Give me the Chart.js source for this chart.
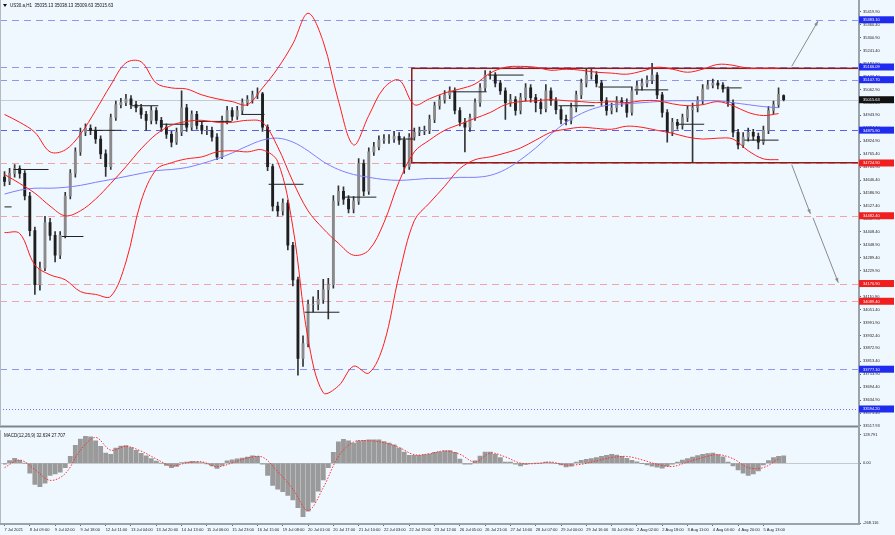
<!DOCTYPE html>
<html>
<head>
<meta charset="utf-8">
<script src="https://cdn.jsdelivr.net/npm/chart.js@4.4.0/dist/chart.umd.min.js"></script>
<style>
  html, body { margin: 0; padding: 0; background: #f0f8ff; }
  #wrap { position: relative; width: 895px; height: 535px; overflow: hidden; background: #f0f8ff; }
  #priceBox { position: absolute; left: 0; top: 0; width: 895px; height: 430px; }
  #macdBox { position: absolute; left: 0; top: 430px; width: 895px; height: 105px; }
</style>
</head>
<body>
<div id="wrap">
  <div id="priceBox"><canvas id="priceChart"></canvas></div>
  <div id="macdBox"><canvas id="macdChart"></canvas></div>
</div>
<script>
// US30.a H1, 7 Jul - 5 Aug 2021, one candle = ~3 hourly bars
const symbolName = 'US30.a,H1';

const timeLabels = ['7 Jul 2021', '8 Jul 09:00', '9 Jul 02:00', '9 Jul 18:00', '12 Jul 11:00', '13 Jul 04:00',
    '13 Jul 20:00', '14 Jul 13:00', '15 Jul 06:00', '15 Jul 23:00', '16 Jul 15:00', '19 Jul 08:00',
    '20 Jul 01:00', '20 Jul 17:00', '21 Jul 10:00', '22 Jul 03:00', '22 Jul 19:00', '23 Jul 12:00',
    '26 Jul 05:00', '26 Jul 21:00', '27 Jul 14:00', '28 Jul 07:00', '29 Jul 00:00', '29 Jul 16:00',
    '30 Jul 09:00', '2 Aug 02:00', '2 Aug 18:00', '3 Aug 11:00', '4 Aug 04:00', '4 Aug 20:00', '5 Aug 13:00'];

const priceTicks = [35419.90, 35360.40, 35300.90, 35241.40, 35181.90, 35122.40, 35062.90, 35003.40,
    34943.90, 34884.40, 34824.90, 34765.40, 34705.90, 34646.40, 34586.90, 34527.40, 34467.90,
    34408.40, 34348.90, 34289.40, 34229.90, 34170.40, 34110.90, 34051.40, 33991.90, 33932.40,
    33872.90, 33813.40, 33753.90, 33694.40, 33634.90, 33575.40, 33517.93];

const openPrices = [
    34660, 34640, 34677, 34699, 34677, 34573, 34414, 34166, 34243, 34451,
    34392, 34301, 34392, 34573, 34677, 34776, 34866, 34884, 34875, 34835,
    34767, 34708, 34934, 34993, 35002, 35020, 34993, 34979, 34948, 34921,
    34966, 34921, 34889, 34857, 34821, 34866, 34979, 34889, 34948, 34898,
    34875, 34875, 34844, 34753, 34921, 34966, 34939, 34966, 35002, 35016,
    35038, 35043, 34889, 34708, 34527, 34505, 34541, 34347, 34188, 33827,
    33895, 34075, 34075, 34098, 34143, 34166, 34550, 34595, 34559, 34514,
    34550, 34722, 34595, 34776, 34799, 34830, 34835, 34835, 34848, 34830,
    34708, 34844, 34866, 34871, 34875, 34925, 34988, 35016, 35038, 35056,
    34966, 34912, 34889, 34934, 35002, 35070, 35129, 35129, 35092, 35056,
    35002, 35016, 34966, 35025, 35070, 35025, 35002, 34975, 35056, 35011,
    34970, 34925, 34921, 34979, 35038, 35092, 35129, 35129, 35092, 35011,
    34966, 34979, 35011, 35002, 34957, 35056, 35079, 35092, 35106, 35129,
    35038, 34957, 34866, 34912, 34898, 34934, 34970, 34979, 35011, 35065,
    35083, 35092, 35083, 35065, 35002, 34866, 34808, 34844, 34866, 34848,
    34821, 34875, 34966, 34993, 35035.13];

const highPrices = [
    34685, 34700, 34718, 34712, 34690, 34590, 34430, 34270, 34480, 34470,
    34410, 34410, 34590, 34695, 34795, 34885, 34905, 34900, 34890, 34850,
    34785, 34950, 35010, 35022, 35040, 35035, 35008, 34995, 34962, 34985,
    34980, 34935, 34905, 34870, 34885, 35056, 34995, 34965, 34962, 34915,
    34895, 34890, 34860, 34940, 34985, 34980, 34985, 35020, 35035, 35055,
    35070, 35050, 34900, 34720, 34545, 34560, 34555, 34360, 34200, 33930,
    34095, 34110, 34140, 34190, 34195, 34575, 34620, 34615, 34575, 34570,
    34745, 34740, 34795, 34820, 34850, 34855, 34855, 34870, 34865, 34845,
    34860, 34885, 34890, 34895, 34945, 35005, 35035, 35058, 35075, 35070,
    34980, 34930, 34950, 35020, 35090, 35150, 35147, 35140, 35105, 35070,
    35040, 35030, 35045, 35090, 35085, 35040, 35020, 35085, 35070, 35025,
    34985, 34945, 35000, 35055, 35110, 35160, 35155, 35145, 35105, 35025,
    35000, 35030, 35025, 35020, 35075, 35100, 35112, 35125, 35183, 35140,
    35050, 34970, 34930, 34925, 34950, 34988, 35000, 35030, 35085, 35105,
    35110, 35105, 35095, 35075, 35015, 34880, 34865, 34885, 34880, 34862,
    34895, 34985, 35010, 35070, 35038.13];

const lowPrices = [
    34620, 34625, 34660, 34655, 34555, 34390, 34121, 34140, 34230, 34370,
    34270, 34285, 34380, 34560, 34660, 34760, 34850, 34855, 34815, 34745,
    34663, 34695, 34920, 34978, 34988, 34975, 34960, 34930, 34875, 34905,
    34905, 34870, 34838, 34799, 34810, 34850, 34870, 34875, 34880, 34858,
    34855, 34825, 34740, 34745, 34905, 34920, 34925, 34950, 34988, 35000,
    35020, 34870, 34690, 34505, 34480, 34485, 34325, 34160, 33750, 33790,
    33880, 34040, 34050, 34080, 34008, 34150, 34530, 34535, 34495, 34495,
    34535, 34575, 34580, 34760, 34785, 34815, 34815, 34820, 34810, 34677,
    34695, 34830, 34850, 34855, 34860, 34910, 34972, 35000, 35020, 34950,
    34895, 34776, 34870, 34920, 34985, 35055, 35110, 35075, 35040, 34925,
    34985, 34945, 34950, 35010, 35005, 34960, 34950, 34960, 34990, 34950,
    34905, 34900, 34905, 34960, 35020, 35075, 35110, 35075, 34990, 34945,
    34950, 34960, 34985, 34935, 34945, 35040, 35060, 35075, 35090, 35020,
    34935, 34821, 34850, 34880, 34880, 34915, 34726, 34960, 34995, 35065,
    35070, 35065, 35050, 34985, 34845, 34790, 34795, 34825, 34830, 34790,
    34810, 34860, 34950, 34980, 35009.63];

const closePrices = [
    34640, 34677, 34699, 34677, 34573, 34414, 34166, 34243, 34451, 34392,
    34301, 34392, 34573, 34677, 34776, 34866, 34884, 34875, 34835, 34767,
    34708, 34934, 34993, 35002, 35020, 34993, 34979, 34948, 34921, 34966,
    34921, 34889, 34857, 34821, 34866, 34979, 34889, 34948, 34898, 34875,
    34875, 34844, 34753, 34921, 34966, 34939, 34966, 35002, 35016, 35038,
    35043, 34889, 34708, 34527, 34505, 34541, 34347, 34188, 33827, 33895,
    34075, 34075, 34098, 34143, 34166, 34550, 34595, 34559, 34514, 34550,
    34722, 34595, 34776, 34799, 34830, 34835, 34835, 34848, 34830, 34708,
    34844, 34866, 34871, 34875, 34925, 34988, 35016, 35038, 35056, 34966,
    34912, 34889, 34934, 35002, 35070, 35129, 35129, 35092, 35056, 35002,
    35016, 34966, 35025, 35070, 35025, 35002, 34975, 35056, 35011, 34970,
    34925, 34921, 34979, 35038, 35092, 35129, 35129, 35092, 35011, 34966,
    34979, 35011, 35002, 34957, 35056, 35079, 35092, 35106, 35129, 35038,
    34957, 34866, 34912, 34898, 34934, 34970, 34979, 35011, 35065, 35083,
    35092, 35083, 35065, 35002, 34866, 34808, 34844, 34866, 34848, 34821,
    34875, 34966, 34993, 35040, 35015.63];

// bollinger bands + long MA, one value every 3 candles
const bandStep = 3;
const bandUpper = [
    34948, 34912, 34866, 34776, 34785, 34857, 34966, 35083, 35185, 35190,
    35092, 35070, 35065, 35038, 35020, 35007, 34993, 35070, 35160, 35273,
    35413, 35282, 35011, 34808, 34943, 35070, 35106, 34993, 35020, 35047,
    35065, 35088, 35138, 35165, 35169, 35165, 35151, 35156, 35151, 35142,
    35138, 35133, 35147, 35165, 35156, 35142, 35156, 35178, 35174, 35160,
    35160, 35160];
const bandMiddle = [
    34672, 34631, 34586, 34527, 34482, 34505, 34559, 34631, 34708, 34790,
    34857, 34898, 34916, 34921, 34912, 34912, 34921, 34912, 34799, 34640,
    34505, 34423, 34356, 34301, 34324, 34451, 34640, 34776, 34830, 34875,
    34903, 34930, 34957, 34993, 35007, 35011, 35016, 35011, 35007, 35002,
    35007, 35002, 35011, 35011, 34997, 34988, 34993, 35007, 34988, 34957,
    34943, 34952];
const bandLower = [
    34405, 34401, 34256, 34211, 34188, 34134, 34121, 34112, 34270, 34550,
    34695, 34726, 34744, 34753, 34776, 34781, 34776, 34785, 34731, 34430,
    33917, 33669, 33700, 33791, 33759, 33895, 34211, 34460, 34541, 34618,
    34699, 34740, 34753, 34771, 34794, 34830, 34866, 34880, 34889, 34884,
    34880, 34894, 34889, 34875, 34862, 34844, 34835, 34839, 34835, 34781,
    34744, 34740];
const longMA = [
    34582, 34600, 34609, 34609, 34613, 34622, 34636, 34649, 34663, 34677,
    34690, 34695, 34704, 34722, 34744, 34771, 34803, 34830, 34839, 34821,
    34781, 34731, 34695, 34672, 34659, 34649, 34645, 34649, 34654, 34654,
    34659, 34659, 34668, 34695, 34740, 34794, 34857, 34912, 34952, 34979,
    34993, 34997, 35002, 35007, 35011, 35011, 35011, 35011, 35002, 34993,
    34984, 34979];

// daily open segments: from candle, to candle, price
const segFrom  = [0, 1.8, 11.3, 16.6, 25.1, 31.0, 38.3, 46.8, 52.2, 59.3, 67.0, 78.1, 88.3, 95.6, 109.5, 117.4, 124.5, 133.2, 142.3, 146.2];
const segTo    = [1.4, 8.7, 15.6, 23.1, 30.4, 36.4, 44.9, 51.4, 59.1, 66.2, 73.5, 80.8, 95.3, 102.6, 116.6, 123.9, 131.2, 138.3, 145.7, 153.0];
const segPrice = [34523, 34695, 34387, 34875, 34988, 34903, 34916, 34948, 34627, 34039, 34568, 34835, 35052, 35129, 34988, 35074, 35061, 34903, 35070, 34830];

// horizontal levels
const blueLevels = [35383.10, 35166.09, 35107.70, 34875.90, 33777.10];
const blueDotLevels = [33594.20];
const redLevels = [34724.90, 34482.40, 34170.90, 34089.40];
const lastPrice = 35015.63;

// range box and projection arrows
const boxFromCandle = 80.5;
const boxTop = 35160;
const boxBottom = 34726;
const arrowStart = [[155.6, 35169], [155.6, 34717], [159.8, 34473]];
const arrowEnd   = [[160.8, 35377], [159.3, 34491], [164.8, 34175]];

// MACD(12,26,9)
const macdMain = [
    -5, 12, 22, 13, 0, -45, -95, -105, -90, -55,
    -48, -40, -20, 30, 80, 108, 120, 118, 100, 75,
    45, 40, 68, 77, 79, 70, 57, 44, 33, 20,
    9, 0, -10, -20, -15, 2, 5, 8, 6, 2,
    -4, -12, -24, -10, 10, 15, 19, 23, 27, 33,
    30, -5, -55, -100, -117, -128, -145, -165, -200, -240,
    -215, -175, -126, -75, -20, 48, 95, 107, 100, 90,
    100, 102, 105, 105, 104, 97, 90, 82, 68, 50,
    35, 35, 35, 38, 41, 48, 51, 55, 56, 48,
    18, -5, -5, 10, 32, 50, 50, 40, 25, 5,
    5, -5, -12, -6, -2, 0, 0, 5, 1, -2,
    -8, -17, -13, 5, 13, 17, 20, 25, 30, 35,
    40, 36, 30, 22, 13, 6, -1, -8, -14, -18,
    -22, -14, -5, 5, 14, 20, 27, 34, 40, 43,
    45, 38, 28, 5, -12, -30, -45, -55, -48, -35,
    -8, 12, 25, 31, 32.634];
const macdSignal = [
    -20, 14, -29, -77, -47, 58, 115, 58, 75, 54,
    19, -12, 1, 6, -16, 1, 23, 27, -38, -116,
    -212, -110, 30, 95, 100, 92, 70, 38, 42, 55,
    40, 5, 45, 28, 0, -2, 5, -8, -5, 10,
    25, 30, 15, -5, -15, 5, 25, 38, 20, -20,
    -20, 20];
const macdReadout = ['32.634', '27.707'];
const macdTicks = [128.791, 0, -268.116];
const macdTickLabels = ['128.791', '0.00', '-268.116'];

const FONT = '"Liberation Sans", Arial, sans-serif';
const X_MIN = -0.3;
const X_MAX = 168.7;
const AXIS_W = 37;

const candleIdx = closePrices.map((c, i) => i);

function bandPoints(arr) {
    return arr.map((v, k) => ({ x: k * bandStep, y: v }));
}

// right axis line drawn by hand so both panels join
function drawRightAxisLine(chart, bottom) {
    const { ctx, chartArea } = chart;
    ctx.save();
    ctx.strokeStyle = '#9aa3ab';
    ctx.lineWidth = 2;
    ctx.beginPath();
    ctx.moveTo(chartArea.right + 1, 0);
    ctx.lineTo(chartArea.right + 1, bottom);
    ctx.stroke();
    ctx.restore();
}

const priceDecor = {
    id: 'priceDecor',
    beforeDatasetsDraw(chart) {
        const { ctx, chartArea: a, scales: { x, y } } = chart;
        ctx.save();
        ctx.beginPath();
        ctx.rect(a.left - 3, a.top, a.right - a.left + 3, a.bottom - a.top);
        ctx.clip();
        ctx.lineWidth = 1;

        // current price line
        ctx.strokeStyle = '#c8ccd0';
        let py = Math.round(y.getPixelForValue(lastPrice)) + 0.5;
        ctx.beginPath(); ctx.moveTo(0, py); ctx.lineTo(a.right, py); ctx.stroke();

        ctx.setLineDash([7, 5]);
        blueLevels.forEach((v, i) => {
            ctx.strokeStyle = i === 3 ? '#5a62e8' : '#8e96f2';
            const ly = Math.round(y.getPixelForValue(v)) + 0.5;
            ctx.beginPath(); ctx.moveTo(0, ly); ctx.lineTo(a.right, ly); ctx.stroke();
        });
        ctx.strokeStyle = '#f2a3a3';
        redLevels.forEach(v => {
            const ly = Math.round(y.getPixelForValue(v)) + 0.5;
            ctx.beginPath(); ctx.moveTo(0, ly); ctx.lineTo(a.right, ly); ctx.stroke();
        });
        ctx.setLineDash([1, 2]);
        ctx.strokeStyle = '#6c74ee';
        blueDotLevels.forEach(v => {
            const ly = Math.round(y.getPixelForValue(v)) + 0.5;
            ctx.beginPath(); ctx.moveTo(0, ly); ctx.lineTo(a.right, ly); ctx.stroke();
        });
        ctx.setLineDash([]);

        // range rectangle
        ctx.strokeStyle = '#8e1c1c';
        ctx.lineWidth = 1.5;
        const bx = x.getPixelForValue(boxFromCandle);
        const bt = y.getPixelForValue(boxTop);
        const bb = y.getPixelForValue(boxBottom);
        ctx.strokeRect(bx, bt, a.right - bx + 2, bb - bt);
        ctx.restore();
    },
    afterDatasetsDraw(chart) {
        const { ctx, scales: { x, y } } = chart;
        ctx.save();
        ctx.strokeStyle = '#8a8a8a';
        ctx.fillStyle = '#8a8a8a';
        ctx.lineWidth = 1;
        arrowStart.forEach((s, i) => {
            const x0 = x.getPixelForValue(s[0]), y0 = y.getPixelForValue(s[1]);
            const x1 = x.getPixelForValue(arrowEnd[i][0]), y1 = y.getPixelForValue(arrowEnd[i][1]);
            ctx.beginPath(); ctx.moveTo(x0, y0); ctx.lineTo(x1, y1); ctx.stroke();
            const ang = Math.atan2(y1 - y0, x1 - x0);
            ctx.beginPath();
            ctx.moveTo(x1, y1);
            ctx.lineTo(x1 - 5 * Math.cos(ang - 0.35), y1 - 5 * Math.sin(ang - 0.35));
            ctx.lineTo(x1 - 5 * Math.cos(ang + 0.35), y1 - 5 * Math.sin(ang + 0.35));
            ctx.closePath(); ctx.fill();
        });
        ctx.restore();
    },
    afterDraw(chart) {
        const { ctx, chartArea: a, scales: { y } } = chart;
        drawRightAxisLine(chart, chart.height);
        ctx.save();
        // panel separator
        ctx.strokeStyle = '#7e858c';
        ctx.lineWidth = 2;
        ctx.beginPath(); ctx.moveTo(0, a.bottom + 1); ctx.lineTo(a.right, a.bottom + 1); ctx.stroke();
        // left frame
        ctx.strokeStyle = '#b4bac0';
        ctx.lineWidth = 1;
        ctx.beginPath(); ctx.moveTo(0.5, 0); ctx.lineTo(0.5, a.bottom); ctx.stroke();

        // price tags on the axis
        ctx.font = '4px ' + FONT;
        ctx.textBaseline = 'middle';
        const tag = (v, bg) => {
            const ty = y.getPixelForValue(v);
            ctx.fillStyle = bg;
            ctx.fillRect(a.right + 1, ty - 3.5, 35, 7);
            ctx.fillStyle = '#ffffff';
            ctx.fillText(v.toFixed(2), a.right + 5, ty + 0.3);
        };
        blueLevels.forEach(v => tag(v, '#1f2cf0'));
        blueDotLevels.forEach(v => tag(v, '#1f2cf0'));
        redLevels.forEach(v => tag(v, '#f01e1e'));
        tag(lastPrice, '#111111');

        // header
        const n = closePrices.length - 1;
        ctx.fillStyle = '#111';
        ctx.beginPath(); ctx.moveTo(3, 4); ctx.lineTo(7, 4); ctx.lineTo(5, 7); ctx.closePath(); ctx.fill();
        ctx.font = '4.5px ' + FONT;
        ctx.fillText(symbolName + '  ' + openPrices[n].toFixed(2) + ' ' + highPrices[n].toFixed(2) + ' ' +
            lowPrices[n].toFixed(2) + ' ' + closePrices[n].toFixed(2), 10, 5.5);
        ctx.restore();
    }
};

const macdDecor = {
    id: 'macdDecor',
    beforeDatasetsDraw(chart) {
        const { ctx, chartArea: a, scales: { y } } = chart;
        ctx.save();
        ctx.strokeStyle = '#c6cacf';
        ctx.lineWidth = 1;
        const zy = Math.round(y.getPixelForValue(0)) + 0.5;
        ctx.beginPath(); ctx.moveTo(0, zy); ctx.lineTo(a.right, zy); ctx.stroke();
        ctx.restore();
    },
    afterDraw(chart) {
        const { ctx, chartArea: a } = chart;
        drawRightAxisLine(chart, a.bottom + 1);
        ctx.save();
        ctx.strokeStyle = '#9aa3ab';
        ctx.lineWidth = 2;
        ctx.beginPath(); ctx.moveTo(0, a.bottom + 1); ctx.lineTo(a.right + 2, a.bottom + 1); ctx.stroke();
        ctx.strokeStyle = '#b4bac0';
        ctx.lineWidth = 1;
        ctx.beginPath(); ctx.moveTo(0.5, 0); ctx.lineTo(0.5, a.bottom); ctx.stroke();
        ctx.fillStyle = '#111';
        ctx.font = '4.5px ' + FONT;
        ctx.textBaseline = 'middle';
        ctx.fillText('MACD(12,26,9) ' + macdReadout[0] + ' ' + macdReadout[1], 4, 6);
        ctx.restore();
    }
};

const priceChart = new Chart(document.getElementById('priceChart'), {
    type: 'bar',
    data: {
        datasets: [
            {
                type: 'line', label: 'upper', data: bandPoints(bandUpper),
                borderColor: '#ff1a1a', borderWidth: 1, pointRadius: 0, tension: 0.35, order: 0
            },
            {
                type: 'line', label: 'middle', data: bandPoints(bandMiddle),
                borderColor: '#ff1a1a', borderWidth: 1, pointRadius: 0, tension: 0.35, order: 0
            },
            {
                type: 'line', label: 'lower', data: bandPoints(bandLower),
                borderColor: '#ff1a1a', borderWidth: 1, pointRadius: 0, tension: 0.35, order: 0
            },
            {
                type: 'line', label: 'ma', data: bandPoints(longMA),
                borderColor: '#7d7dff', borderWidth: 1, pointRadius: 0, tension: 0.35, order: 0
            },
            ...segPrice.map((p, i) => ({
                type: 'line', label: 'open' + i,
                data: [{ x: segFrom[i], y: p }, { x: segTo[i], y: p }],
                borderColor: '#222', borderWidth: 1, pointRadius: 0, order: 1
            })),
            {
                label: 'body',
                data: candleIdx.map(i => ({ x: i, y: [openPrices[i], closePrices[i]] })),
                backgroundColor: candleIdx.map(i => closePrices[i] >= openPrices[i] ? '#8a8a8a' : '#1e1e1e'),
                barThickness: 2.2, grouped: false, order: 2
            },
            {
                label: 'wick',
                data: candleIdx.map(i => ({ x: i, y: [lowPrices[i], highPrices[i]] })),
                backgroundColor: '#333333',
                barThickness: 1, grouped: false, order: 3
            }
        ]
    },
    options: {
        responsive: true,
        maintainAspectRatio: false,
        animation: false,
        layout: { padding: { left: 3, top: 0, right: 0, bottom: 2 } },
        plugins: { legend: { display: false }, tooltip: { enabled: false } },
        scales: {
            x: { type: 'linear', min: X_MIN, max: X_MAX, offset: false, display: false },
            y: {
                position: 'right',
                min: 33517.93,
                max: 35453.8,
                afterBuildTicks: s => { s.ticks = priceTicks.map(v => ({ value: v })); },
                afterFit: s => { s.width = AXIS_W; },
                ticks: {
                    autoSkip: false, padding: 2, color: '#222',
                    font: { size: 4, family: FONT },
                    callback: v => v.toFixed(2)
                },
                grid: { drawOnChartArea: false, tickLength: 3, color: '#666' },
                border: { display: false }
            }
        }
    },
    plugins: [priceDecor]
});

const macdChart = new Chart(document.getElementById('macdChart'), {
    type: 'bar',
    data: {
        datasets: [
            {
                type: 'line', label: 'signal', data: bandPoints(macdSignal),
                borderColor: '#ff3030', borderWidth: 1, borderDash: [1.5, 1.5],
                pointRadius: 0, tension: 0.35, order: 0
            },
            {
                label: 'macd',
                data: candleIdx.map(i => ({ x: i, y: macdMain[i] })),
                backgroundColor: '#9a9a9a',
                barThickness: 4.2, grouped: false, order: 1
            }
        ]
    },
    options: {
        responsive: true,
        maintainAspectRatio: false,
        animation: false,
        layout: { padding: { left: 3, top: 2, right: 0, bottom: 0 } },
        plugins: { legend: { display: false }, tooltip: { enabled: false } },
        scales: {
            x: {
                type: 'linear', min: X_MIN, max: X_MAX, offset: false,
                afterBuildTicks: s => { s.ticks = timeLabels.map((t, k) => ({ value: k * 5 })); },
                afterFit: s => { s.height = 12; },
                ticks: {
                    autoSkip: false, maxRotation: 0, align: 'start', padding: 1, color: '#222',
                    font: { size: 4, family: FONT },
                    callback: (v, idx) => timeLabels[idx]
                },
                grid: { drawOnChartArea: false, offset: false, tickLength: 3, color: '#666' },
                border: { display: false }
            },
            y: {
                position: 'right',
                min: -268.116,
                max: 128.791,
                afterBuildTicks: s => { s.ticks = macdTicks.map(v => ({ value: v })); },
                afterFit: s => { s.width = AXIS_W; },
                ticks: {
                    autoSkip: false, padding: 2, color: '#222',
                    font: { size: 4, family: FONT },
                    callback: (v, idx) => macdTickLabels[idx]
                },
                grid: { drawOnChartArea: false, tickLength: 3, color: '#666' },
                border: { display: false }
            }
        }
    },
    plugins: [macdDecor]
});
</script>
</body>
</html>
